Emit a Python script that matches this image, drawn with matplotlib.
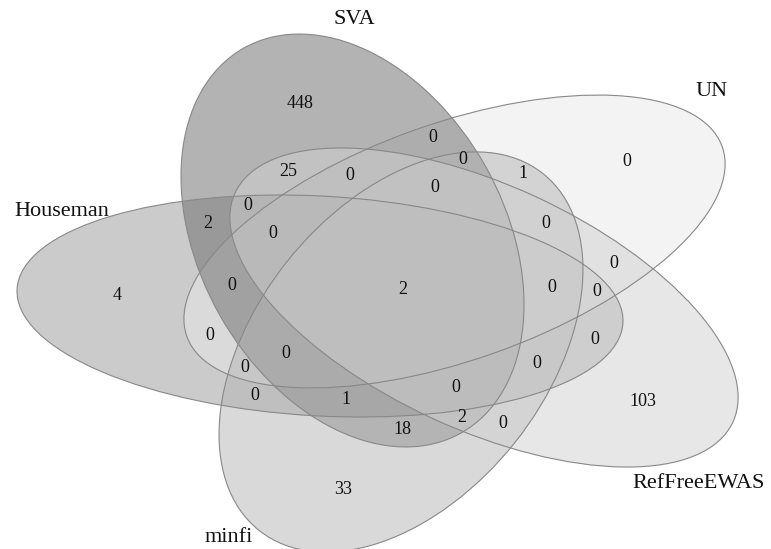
import matplotlib
matplotlib.use('Agg')
import matplotlib.pyplot as plt
from matplotlib.patches import Ellipse

plt.rcParams['font.family'] = ['Liberation Serif', 'DejaVu Serif']

# sets, in drawing order
set_names = ['Houseman', 'UN', 'SVA', 'minfi', 'RefFreeEWAS']
set_fills = ['#999999', '#e9e9e9', '#696969', '#b5b5b5', '#d1d1d1']

# ellipse geometry in pixel space: centre x, centre y, semi-axis a, semi-axis b, angle
ell_cx = [320, 454.5, 352.5, 401, 484]
ell_cy = [306, 241.5, 240.5, 352, 307.5]
ell_a = [303.4, 284, 221, 228, 274]
ell_b = [109.9, 118.4, 152.3, 145.5, 122.3]
ell_ang = [3.2, -19.5, 60.5, -51.5, 24.7]

# set label placement
name_x = [62, 712, 354, 229, 699]
name_y = [212, 92, 20, 537, 483]

# region counts and where they sit
counts = [448, 25, 0, 0, 2, 0,
          0, 0, 0, 1, 0, 0, 0,
          4, 0, 0, 0, 0, 0, 1, 33,
          2, 0, 0, 0, 0, 0, 2, 0, 18, 103]
count_x = [300, 288, 350, 248, 208, 273,
           433, 463, 435, 523, 627, 546, 614,
           117, 232, 210, 286, 245, 255, 346, 343,
           403, 552, 597, 595, 537, 456, 462, 503, 402, 643]
count_y = [103, 172, 175, 205, 223, 233,
           138, 160, 188, 174, 162, 223, 263,
           295, 286, 335, 353, 368, 396, 399, 490,
           290, 287, 292, 339, 364, 387, 418, 423, 429, 401]

fig = plt.figure(figsize=(7.71, 5.49), dpi=100)
ax = fig.add_axes([0, 0, 1, 1])
ax.set_xlim(0, 771)
ax.set_ylim(549, 0)
ax.axis('off')

for i in range(len(set_names)):
    ax.add_patch(Ellipse((ell_cx[i], ell_cy[i]), 2 * ell_a[i], 2 * ell_b[i],
                         angle=ell_ang[i], facecolor=set_fills[i],
                         alpha=0.5, edgecolor='none'))
for i in range(len(set_names)):
    ax.add_patch(Ellipse((ell_cx[i], ell_cy[i]), 2 * ell_a[i], 2 * ell_b[i],
                         angle=ell_ang[i], facecolor='none',
                         edgecolor='#888888', linewidth=0.8))

for x, y, c in zip(count_x, count_y, counts):
    ax.text(x, y, str(c), ha='center', va='center', fontsize=13, color='#111111')

for x, y, n in zip(name_x, name_y, set_names):
    ax.text(x, y, n, ha='center', va='center', fontsize=16, color='#111111')

fig.savefig('out.png', dpi=100)
